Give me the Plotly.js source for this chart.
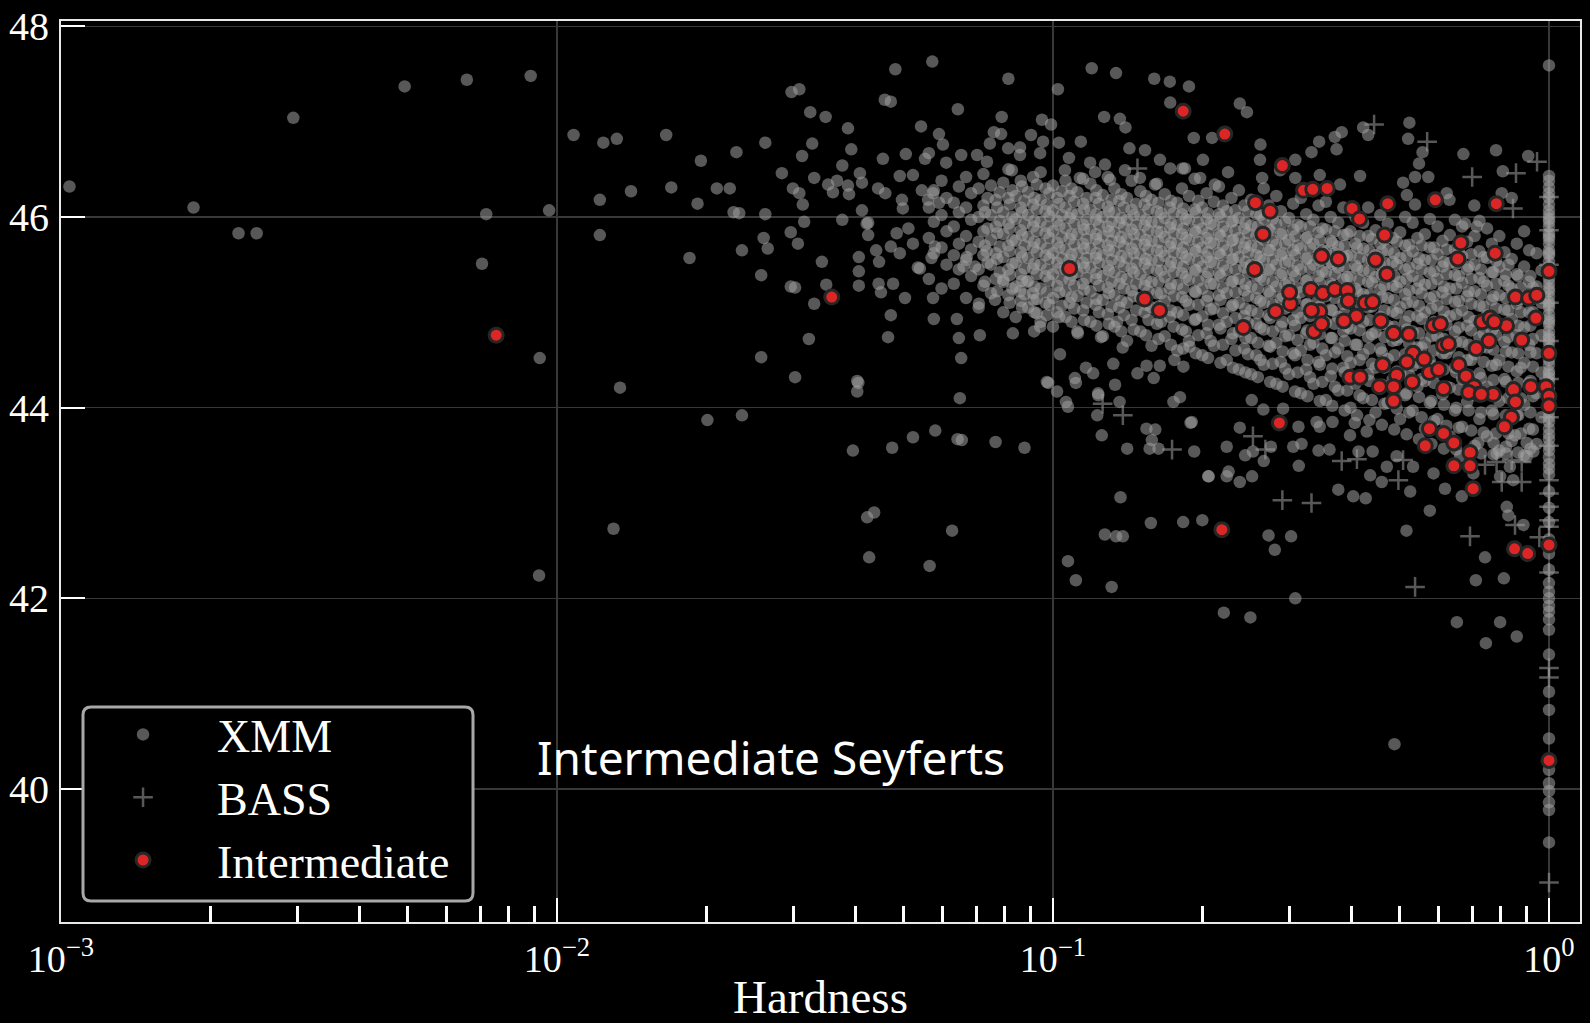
<!DOCTYPE html>
<html><head><meta charset="utf-8">
<script src="https://cdn.plot.ly/plotly-3.0.1.min.js"></script>
<style>html,body{margin:0;padding:0;background:#000;}#chart{width:1590px;height:1023px;}</style>
</head><body><div id="chart"></div>
<script>
// ---- DATA: [hardness, log luminosity] ----
const xmmOutliers = [
[.00104,46.32],[.00185,46.1],[.00228,45.83],[.00248,45.83],[.00294,47.04],[.00493,47.37],[.00658,47.44],[.00885,47.48],[.0072,46.03],[.00706,45.51],[.00964,46.07],[.00923,44.52],[.0092,42.24],
[.0108,46.86],[.0124,46.78],[.0132,46.82],[.0166,46.86],[.0122,46.18],[.0141,46.27],[.017,46.31],[.0192,46.14],[.0195,46.59],[.023,46.68],[.0263,46.78],[.021,46.3],[.0223,46.3],[.0227,46.05],[.0233,46.04],[.0263,46.03],[.0122,45.81],[.0185,45.57],[.0236,45.65],[.0258,45.39],[.0261,45.78],[.0266,45.67],[.0296,45.84],[.0306,45.72],[.0315,45.95],[.0284,46.46],[.0299,46.3],[.0308,46.25],[.0313,46.13],[.0327,46.77],[.0312,46.64],[.033,46.41],[.0352,46.34],[.036,46.26],[.0367,46.38],[.0376,46.54],[.0386,46.33],[.0388,46.24],[.0392,46.71],[.0408,46.46],[.0412,46.36],[.0376,45.97],[.0412,46.07],[.0342,45.53],[.0296,45.27],[.0302,45.26],[.033,45.09],[.0349,45.29],[.0322,44.72],[.0258,44.53],[.0302,44.32],[.0134,44.21],[.0403,44.28],[.0403,44.17],[.0406,45.58],[.0406,45.43],[.0406,45.28],[.0424,45.94],[.0424,45.81],[.044,45.65],[.0446,45.53],[.045,45.21],[.0476,45.3],[.0471,44.97],[.0465,44.74],[.0454,46.61],[.0505,46.66],[.0552,46.61],[.0562,46.67],[.0542,46.95],[.0589,46.87],[.06,46.76],[.0609,46.57],[.0643,47.13],[.0788,47.05],[.0786,46.87],[.076,46.89],[.0746,46.77],[.0703,46.65],[.0653,46.65],[.0812,46.72],[.0903,46.86],[.095,47.02],[.0991,46.97],[.0858,46.65],[.0736,46.58],[.0503,45.15],[.0573,45.15],[.0534,45.47],[.0522,45.72],[.0575,44.93],[.064,44.93],[.0709,45.09],[.0646,44.73],[.0653,44.52],[.0712,44.76],[.083,44.78],[.0916,44.8],[.1033,44.56],[.0972,44.27],[.1019,44.17],[.1122,44.78],[.1165,44.42],[.1233,44.15],[.1334,44.24],[.125,44.74],[.1346,44.9],[.1382,44.63],[.148,44.36],[.1544,44.44],[.1596,44.31],[.1757,44.5],[.1885,44.64],[.1107,44.31],[.1112,44.26],[.1268,47.05],[.1364,47.03],[.14,46.94],[.1426,46.72],[.1138,46.79],[.1077,46.62],[.1188,46.57],[.1273,46.55],[.0942,46.67],[.1028,46.78],[.1723,47.2],[.1922,46.83],[.1824,46.51],[.1723,46.51],
[.0481,47.55],[.0571,47.63],[.0297,47.31],[.0308,47.34],[.0324,47.1],[.0348,47.05],[.0386,46.93],[.0458,47.23],[.0471,47.21],[.0813,47.45],[.1023,47.34],[.1197,47.56],[.134,47.51],[.16,47.45],[.172,47.42],[.188,47.37],
[.013,42.73],[.0201,43.87],[.0236,43.92],[.0405,44.26],[.0649,44.1],[.0395,43.55],[.0474,43.58],[.0522,43.69],[.0579,43.76],[.0642,43.67],[.0655,43.66],[.0766,43.64],[.0876,43.58],[.0436,42.9],[.0422,42.85],[.0626,42.71],[.0426,42.43],[.0564,42.34],
[.0978,44.26],[.1062,44.06],[.1072,44.01],[.1234,44.13],[.1362,44.06],[.1228,43.92],[.1254,43.71],
[.1411,43.57],[.1566,43.57],[.1632,43.57],[.1543,43.78],[.1608,43.77],[.1582,43.66],[.1894,43.84],[.1926,43.54],[.1368,43.06],[.1575,42.79],[.1272,42.67],[.134,42.65],[.1383,42.65],[.1072,42.39],[.1112,42.19],[.1313,42.12],
[.1205,44.36],[.1323,44.46],[.1642,44.44],[.1832,44.43],[.1749,44.06],[.1803,44.11],[.2056,43.28],
[.0858,46.73],[.0955,46.79],[.2093,46.83],[.2006,46.6],
[.0444,46.3],[.0459,46.25],[.0491,46.43],[.0522,46.44],[.0496,46.18],[.0498,46.09],[.0544,46.28],[.056,46.18],[.0573,46.25],[.0589,46.15],
[.0421,45.93],[.0445,45.3],[.0471,45.69],[.0491,45.62],[.0484,45.83],[.0511,45.88],[.0539,45.46],[.0569,45.57],[.0578,45.69],[.066,45.48],[.067,45.58],[.0696,45.48],[.0735,45.64],[.0794,45.34],[.0764,45.13],[.0858,45.22],[.0913,45.13],[.0927,44.99],[.0942,44.85],[.0885,45.32],[.0826,46.49],
[.1845,46.51],[.198,46.41],[.212,46.34],[.2254,46.47],[.264,46.41],[.287,46.49],[.308,46.41],[.345,46.44],[.379,46.34],[.308,46.6],[.2614,46.6],
[.1057,46.49],[.1133,46.41],[.1216,46.47],[.1303,46.39],[.1397,46.49],[.1497,46.41],[.1606,46.34],[.1643,46.6],[.1533,46.7],
[.238,47.19],[.246,47.1],[.262,46.76],[.332,46.68],[.344,46.79],[.373,46.71],[.37,46.84],[.382,46.89],[.422,46.94],[.432,46.86],[.416,46.43],[.523,46.99],[.52,46.82],[.556,46.68],[.547,46.56],[.537,46.42],[.571,46.42],[.508,46.36],[.672,46.66],[.782,46.7],[.807,46.48],[.908,46.64],[.707,46.12],[.622,46.25],[.63,46.18],[.841,46.2],[.803,46.25],[.517,46.23],[.537,46.13],[.677,45.93],[.715,45.9],
[.224,43.59],[.238,43.79],[.206,43.28],[.224,43.28],[.238,43.22],[.244,43.5],[.253,43.54],[.266,43.44],[.275,43.59],[.272,42.66],[.302,42.65],[.28,42.51],[.313,43.39],[.305,43.59],[.317,43.62],[.343,43.55],[.361,43.56],[.366,43.85],[.345,43.8],[.34,43.85],[.376,43.14],[.403,43.07],[.427,43.05],[.436,43.29],[.46,43.22],[.525,43.12],[.397,43.71],[.429,43.75],[.441,43.54],[.413,43.54],[.575,42.92],[.516,42.71],[.617,43.15],[.667,43.07],[.743,42.43],[.712,42.19],[.811,42.21],[.652,41.75],[.746,41.53],[.797,41.75],[.861,41.6],[.822,42.96],[.828,42.87],[.888,42.77],[.308,42],[.221,41.85],[.25,41.8],[.488,40.47],[.819,43.59],[.854,43.71],[.902,43.63],[.93,43.54],[.773,43.63],[.72,43.63],
[.183,42.8],[.2,42.82],[.226,43.33],[.252,43.28],
[.1904,43.85],[.2516,44.08],[.2655,43.98],[.291,43.99],[.3125,43.8],[.406,43.84],
[.532,43.38],[.585,43.31],[.662,43.49],[.704,43.31],[.784,43.52],[.834,43.38],[.902,43.49],[.847,43.24],[.797,43.28],[.493,43.49],[.471,43.38]
];

const xmmCore = [
[.0562,45.35],[.0575,45.62],[.0562,45.78],[.0575,45.95],[.0562,46.1],[.0575,46.28],
[.0596,45.25],[.061,45.5],[.0596,45.68],[.061,45.85],[.0596,46.02],[.061,46.2],[.0596,46.38],
[.0631,45.3],[.0646,45.45],[.0631,45.6],[.0646,45.72],[.0631,45.9],[.0646,46.05],[.0631,46.15],[.0646,46.32],
[.0668,45.15],[.0684,45.38],[.0668,45.55],[.0684,45.66],[.0668,45.8],[.0684,45.97],[.0668,46.1],[.0684,46.25],[.0668,46.42],
[.0708,45.05],[.0724,45.28],[.0708,45.45],[.0724,45.6],[.0708,45.74],[.0724,45.85],[.0708,46],[.0724,46.12],[.0708,46.3],[.0724,46.45],
[.075,45.2],[.0767,45.35],[.075,45.5],[.0767,45.62],[.075,45.76],[.0767,45.9],[.075,46.02],[.0767,46.18],[.075,46.33],
[.0794,45],[.0813,45.18],[.0794,45.32],[.0813,45.45],[.0794,45.58],[.0813,45.7],[.0794,45.82],[.0813,45.93],[.0794,46.05],[.0813,46.2],[.0794,46.36],[.0813,46.5],
[.0841,44.95],[.0861,45.12],[.0841,45.27],[.0861,45.4],[.0841,45.52],[.0861,45.63],[.0841,45.75],[.0861,45.86],[.0841,45.98],[.0861,46.1],[.0841,46.22],[.0861,46.38],
[.0891,45.05],[.0912,45.2],[.0891,45.33],[.0912,45.46],[.0891,45.57],[.0912,45.68],[.0891,45.79],[.0912,45.9],[.0891,46.02],[.0912,46.13],[.0891,46.26],[.0912,46.42],
[.0944,44.9],[.0966,45.1],[.0944,45.25],[.0966,45.38],[.0944,45.5],[.0966,45.6],[.0944,45.72],[.0966,45.83],[.0944,45.95],[.0966,46.06],[.0944,46.18],[.0966,46.3],[.0944,46.47],
[.1,44.85],[.102,45],[.1,45.15],[.102,45.28],[.1,45.4],[.102,45.52],[.1,45.62],[.102,45.73],[.1,45.85],[.102,45.96],[.1,46.07],[.102,46.2],[.1,46.33],
[.106,44.95],[.108,45.1],[.106,45.22],[.108,45.34],[.106,45.45],[.108,45.55],[.106,45.66],[.108,45.77],[.106,45.88],[.108,45.99],[.106,46.1],[.108,46.22],[.106,46.38],
[.112,44.8],[.115,45.02],[.112,45.17],[.115,45.3],[.112,45.42],[.115,45.52],[.112,45.62],[.115,45.72],[.112,45.82],[.115,45.92],[.112,46.03],[.115,46.14],[.112,46.26],[.115,46.4],
[.119,44.9],[.122,45.08],[.119,45.22],[.122,45.35],[.119,45.47],[.122,45.57],[.119,45.67],[.122,45.77],[.119,45.87],[.122,45.97],[.119,46.08],[.122,46.2],[.119,46.35],
[.126,44.75],[.129,44.98],[.126,45.13],[.129,45.26],[.126,45.38],[.129,45.49],[.126,45.6],[.129,45.7],[.126,45.8],[.129,45.9],[.126,46],[.129,46.11],[.126,46.23],[.129,46.42],
[.133,44.85],[.136,45.05],[.133,45.18],[.136,45.3],[.133,45.42],[.136,45.53],[.133,45.64],[.136,45.74],[.133,45.84],[.136,45.94],[.133,46.05],[.136,46.17],[.133,46.3],
[.141,44.7],[.144,44.92],[.141,45.1],[.144,45.23],[.141,45.35],[.144,45.46],[.141,45.57],[.144,45.67],[.141,45.77],[.144,45.87],[.141,45.97],[.144,46.08],[.141,46.2],[.144,46.38],
[.15,44.8],[.153,45],[.15,45.15],[.153,45.28],[.15,45.4],[.153,45.51],[.15,45.61],[.153,45.71],[.15,45.81],[.153,45.91],[.15,46.02],[.153,46.13],[.15,46.27],
[.158,44.65],[.162,44.88],[.158,45.05],[.162,45.2],[.158,45.32],[.162,45.44],[.158,45.55],[.162,45.65],[.158,45.75],[.162,45.85],[.158,45.95],[.162,46.06],[.158,46.18],[.162,46.35],
[.168,44.75],[.172,44.95],[.168,45.12],[.172,45.25],[.168,45.37],[.172,45.48],[.168,45.59],[.172,45.69],[.168,45.79],[.172,45.89],[.168,45.99],[.172,46.1],[.168,46.24],
[.178,44.6],[.182,44.82],[.178,45],[.182,45.16],[.178,45.29],[.182,45.41],[.178,45.52],[.182,45.62],[.178,45.72],[.182,45.82],[.178,45.92],[.182,46.03],[.178,46.15],[.182,46.3],
[.188,44.7],[.193,44.92],[.188,45.08],[.193,45.22],[.188,45.34],[.193,45.45],[.188,45.56],[.193,45.66],[.188,45.76],[.193,45.86],[.188,45.97],[.193,46.08],[.188,46.22],[.193,46.4],
[.2,44.55],[.204,44.78],[.2,44.96],[.204,45.12],[.2,45.25],[.204,45.37],[.2,45.48],[.204,45.58],[.2,45.68],[.204,45.78],[.2,45.88],[.204,45.98],[.2,46.1],[.204,46.25],
[.211,44.65],[.216,44.87],[.211,45.04],[.216,45.18],[.211,45.3],[.216,45.41],[.211,45.52],[.216,45.62],[.211,45.72],[.216,45.82],[.211,45.92],[.216,46.03],[.211,46.16],[.216,46.32],
[.224,44.5],[.229,44.72],[.224,44.9],[.229,45.06],[.224,45.2],[.229,45.32],[.224,45.44],[.229,45.55],[.224,45.65],[.229,45.75],[.224,45.85],[.229,45.95],[.224,46.06],[.229,46.2],
[.237,44.4],[.243,44.62],[.237,44.8],[.243,44.96],[.237,45.1],[.243,45.23],[.237,45.35],[.243,45.47],[.237,45.58],[.243,45.68],[.237,45.78],[.243,45.88],[.237,45.99],[.243,46.12],[.237,46.28],
[.251,44.35],[.257,44.55],[.251,44.73],[.257,44.88],[.251,45.02],[.257,45.15],[.251,45.27],[.257,45.38],[.251,45.5],[.257,45.6],[.251,45.7],[.257,45.8],[.251,45.91],[.257,46.03],[.251,46.18],
[.266,44.45],[.272,44.65],[.266,44.82],[.272,44.97],[.266,45.1],[.272,45.22],[.266,45.34],[.272,45.45],[.266,45.55],[.272,45.65],[.266,45.76],[.272,45.87],[.266,45.98],[.272,46.12],[.266,46.3],
[.282,44.25],[.288,44.48],[.282,44.68],[.288,44.85],[.282,45],[.288,45.14],[.282,45.27],[.288,45.39],[.282,45.5],[.288,45.6],[.282,45.71],[.288,45.82],[.282,45.93],[.288,46.06],[.282,46.22],
[.299,44.35],[.305,44.57],[.299,44.76],[.305,44.92],[.299,45.06],[.305,45.19],[.299,45.31],[.305,45.43],[.299,45.54],[.305,45.65],[.299,45.76],[.305,45.87],[.299,45.99],[.305,46.14],
[.316,44.15],[.324,44.4],[.316,44.6],[.324,44.78],[.316,44.94],[.324,45.08],[.316,45.21],[.324,45.33],[.316,45.45],[.324,45.56],[.316,45.67],[.324,45.78],[.316,45.9],[.324,46.03],[.316,46.2],
[.335,44.25],[.343,44.48],[.335,44.68],[.343,44.85],[.335,45],[.343,45.13],[.335,45.26],[.343,45.38],[.335,45.5],[.343,45.61],[.335,45.72],[.343,45.84],[.335,45.97],[.343,46.12],
[.355,44.08],[.363,44.33],[.355,44.55],[.363,44.73],[.355,44.89],[.363,45.03],[.355,45.17],[.363,45.3],[.355,45.42],[.363,45.53],[.355,45.64],[.363,45.75],[.355,45.87],[.363,46],[.355,46.16],
[.376,44.18],[.385,44.42],[.376,44.62],[.385,44.8],[.376,44.95],[.385,45.09],[.376,45.22],[.385,45.35],[.376,45.47],[.385,45.58],[.376,45.69],[.385,45.81],[.376,45.94],[.385,46.1],
[.398,44],[.407,44.25],[.398,44.47],[.407,44.66],[.398,44.83],[.407,44.98],[.398,45.12],[.407,45.25],[.398,45.37],[.407,45.49],[.398,45.6],[.407,45.72],[.398,45.85],[.407,46],
[.422,44.1],[.432,44.35],[.422,44.56],[.432,44.74],[.422,44.9],[.432,45.05],[.422,45.19],[.432,45.32],[.422,45.44],[.432,45.55],[.422,45.67],[.432,45.8],[.422,45.94],[.432,46.1],
[.447,43.95],[.457,44.2],[.447,44.42],[.457,44.62],[.447,44.79],[.457,44.95],[.447,45.1],[.457,45.24],[.447,45.37],[.457,45.49],[.447,45.6],[.457,45.72],[.447,45.86],[.457,46.02],
[.473,44.05],[.484,44.3],[.473,44.51],[.484,44.7],[.473,44.86],[.484,45.01],[.473,45.15],[.484,45.28],[.473,45.41],[.484,45.53],[.473,45.65],[.484,45.78],[.473,45.93],
[.501,43.88],[.513,44.13],[.501,44.36],[.513,44.56],[.501,44.74],[.513,44.9],[.501,45.05],[.513,45.19],[.501,45.32],[.513,45.45],[.501,45.57],[.513,45.7],[.501,45.84],[.513,46],
[.531,43.97],[.543,44.22],[.531,44.44],[.543,44.63],[.531,44.8],[.543,44.96],[.531,45.11],[.543,45.25],[.531,45.38],[.543,45.51],[.531,45.64],[.543,45.78],[.531,45.94],
[.562,43.78],[.575,44.05],[.562,44.28],[.575,44.49],[.562,44.68],[.575,44.85],[.562,45],[.575,45.15],[.562,45.29],[.575,45.42],[.562,45.55],[.575,45.68],[.562,45.82],[.575,45.98],
[.596,43.88],[.61,44.14],[.596,44.37],[.61,44.57],[.596,44.75],[.61,44.92],[.596,45.07],[.61,45.21],[.596,45.35],[.61,45.48],[.596,45.61],[.61,45.75],[.596,45.9],
[.631,43.7],[.646,43.97],[.631,44.21],[.646,44.42],[.631,44.62],[.646,44.8],[.631,44.96],[.646,45.11],[.631,45.25],[.646,45.39],[.631,45.52],[.646,45.66],[.631,45.81],[.646,45.97],
[.668,43.8],[.684,44.06],[.668,44.3],[.684,44.5],[.668,44.69],[.684,44.86],[.668,45.02],[.684,45.17],[.668,45.31],[.684,45.45],[.668,45.59],[.684,45.74],[.668,45.9],
[.708,43.6],[.724,43.88],[.708,44.13],[.724,44.36],[.708,44.56],[.724,44.74],[.708,44.91],[.724,45.07],[.708,45.22],[.724,45.36],[.708,45.5],[.724,45.64],[.708,45.8],[.724,45.96],
[.75,43.7],[.767,43.97],[.75,44.22],[.767,44.44],[.75,44.63],[.767,44.81],[.75,44.97],[.767,45.13],[.75,45.28],[.767,45.42],[.75,45.57],[.767,45.72],[.75,45.88],
[.794,43.55],[.813,43.82],[.794,44.07],[.813,44.3],[.794,44.5],[.813,44.69],[.794,44.87],[.813,45.03],[.794,45.18],[.813,45.33],[.794,45.48],[.813,45.63],[.794,45.8],
[.841,43.65],[.861,43.92],[.841,44.16],[.861,44.38],[.841,44.58],[.861,44.76],[.841,44.93],[.861,45.09],[.841,45.25],[.861,45.4],[.841,45.56],[.861,45.72],
[.891,43.5],[.912,43.78],[.891,44.03],[.912,44.26],[.891,44.47],[.912,44.66],[.891,44.84],[.912,45],[.891,45.16],[.912,45.32],[.891,45.48],[.912,45.65],[.891,45.85],
[.944,43.62],[.966,43.9],[.944,44.15],[.966,44.37],[.944,44.57],[.966,44.76],[.944,44.94],[.966,45.1],[.944,45.27],[.966,45.44],[.944,45.62]
];

// second, interleaved layer of the densest part of the XMM cloud
const xmmCoreInner = [
[.0729,45.32],[.0738,45.52],[.0729,45.7],[.0738,45.88],[.0729,46.05],[.0738,46.2],
[.0772,45.22],[.0781,45.42],[.0772,45.56],[.0781,45.69],[.0772,45.83],[.0781,45.96],[.0772,46.1],[.0781,46.26],
[.0818,45.1],[.0828,45.25],[.0818,45.39],[.0828,45.51],[.0818,45.64],[.0828,45.76],[.0818,45.88],[.0828,46],[.0818,46.13],[.0828,46.28],
[.0866,45.05],[.0876,45.19],[.0866,45.33],[.0876,45.46],[.0866,45.58],[.0876,45.7],[.0866,45.81],[.0876,45.93],[.0866,46.05],[.0876,46.17],[.0866,46.32],
[.0917,45],[.0928,45.14],[.0917,45.27],[.0928,45.4],[.0917,45.51],[.0928,45.63],[.0917,45.74],[.0928,45.85],[.0917,45.96],[.0928,46.08],[.0917,46.2],[.0928,46.34],
[.0972,44.97],[.0984,45.08],[.0972,45.21],[.0984,45.33],[.0972,45.45],[.0984,45.56],[.0972,45.67],[.0984,45.78],[.0972,45.9],[.0984,46.01],[.0972,46.13],[.0984,46.25],
[.103,44.95],[.1042,45.07],[.103,45.21],[.1042,45.34],[.103,45.46],[.1042,45.57],[.103,45.68],[.1042,45.79],[.103,45.91],[.1042,46.02],[.103,46.14],[.1042,46.27],
[.109,44.9],[.1103,45.04],[.109,45.16],[.1103,45.28],[.109,45.39],[.1103,45.5],[.109,45.61],[.1103,45.71],[.109,45.82],[.1103,45.93],[.109,46.04],[.1103,46.16],[.109,46.3],
[.1155,44.92],[.1169,45.1],[.1155,45.24],[.1169,45.36],[.1155,45.47],[.1169,45.57],[.1155,45.67],[.1169,45.77],[.1155,45.87],[.1169,45.97],[.1155,46.08],[.1169,46.2],
[.1223,44.86],[.1238,45],[.1223,45.14],[.1238,45.28],[.1223,45.41],[.1238,45.52],[.1223,45.62],[.1238,45.72],[.1223,45.82],[.1238,45.92],[.1223,46.03],[.1238,46.14],[.1223,46.28],
[.1296,44.88],[.1312,45.06],[.1296,45.2],[.1312,45.32],[.1296,45.44],[.1312,45.55],[.1296,45.65],[.1312,45.75],[.1296,45.85],[.1312,45.95],[.1296,46.06],[.1312,46.18],
[.1373,44.8],[.139,44.97],[.1373,45.12],[.139,45.25],[.1373,45.37],[.139,45.48],[.1373,45.59],[.139,45.69],[.1373,45.79],[.139,45.89],[.1373,45.99],[.139,46.1],[.1373,46.24],
[.1454,44.82],[.1471,45.02],[.1454,45.17],[.1471,45.3],[.1454,45.42],[.1471,45.52],[.1454,45.62],[.1471,45.72],[.1454,45.82],[.1471,45.92],[.1454,46.02],[.1471,46.14],
[.154,44.76],[.1558,44.92],[.154,45.08],[.1558,45.22],[.154,45.34],[.1558,45.46],[.154,45.56],[.1558,45.66],[.154,45.76],[.1558,45.86],[.154,45.97],[.1558,46.08],[.154,46.22],
[.1632,44.72],[.1652,44.9],[.1632,45.06],[.1652,45.2],[.1632,45.32],[.1652,45.44],[.1632,45.54],[.1652,45.64],[.1632,45.74],[.1652,45.84],[.1632,45.94],[.1652,46.04],[.1632,46.15],
[.1729,44.66],[.175,44.85],[.1729,45.02],[.175,45.17],[.1729,45.3],[.175,45.42],[.1729,45.53],[.175,45.63],[.1729,45.73],[.175,45.83],[.1729,45.93],[.175,46.04],[.1729,46.17],
[.1831,44.62],[.1853,44.8],[.1831,44.97],[.1853,45.12],[.1831,45.25],[.1853,45.37],[.1831,45.48],[.1853,45.58],[.1831,45.68],[.1853,45.78],[.1831,45.88],[.1853,45.98],[.1831,46.09],
[.194,44.57],[.1963,44.76],[.194,44.93],[.1963,45.08],[.194,45.21],[.1963,45.33],[.194,45.44],[.1963,45.54],[.194,45.64],[.1963,45.74],[.194,45.84],[.1963,45.94],[.194,46.05],[.1963,46.17],
[.2054,44.52],[.2079,44.7],[.2054,44.87],[.2079,45.03],[.2054,45.17],[.2079,45.3],[.2054,45.42],[.2079,45.53],[.2054,45.63],[.2079,45.73],[.2054,45.83],[.2079,45.93],[.2054,46.04],
[.2176,44.47],[.2202,44.66],[.2176,44.83],[.2202,44.99],[.2176,45.13],[.2202,45.26],[.2176,45.38],[.2202,45.49],[.2176,45.6],[.2202,45.7],[.2176,45.8],[.2202,45.9],[.2176,46],[.2202,46.12],
[.2305,44.42],[.2333,44.6],[.2305,44.78],[.2333,44.94],[.2305,45.08],[.2333,45.21],[.2305,45.33],[.2333,45.45],[.2305,45.56],[.2333,45.66],[.2305,45.76],[.2333,45.86],[.2305,45.96],[.2333,46.07],
[.2443,44.37],[.2472,44.56],[.2443,44.73],[.2472,44.89],[.2443,45.04],[.2472,45.17],[.2443,45.3],[.2472,45.42],[.2443,45.53],[.2472,45.63],[.2443,45.73],[.2472,45.83],[.2443,45.94],[.2472,46.06],
[.2588,44.32],[.2619,44.5],[.2588,44.68],[.2619,44.84],[.2588,44.99],[.2619,45.12],[.2588,45.25],[.2619,45.37],[.2588,45.48],[.2619,45.58],[.2588,45.68],[.2619,45.79],[.2588,45.9],[.2619,46.02],
[.2741,44.27],[.2774,44.46],[.2741,44.64],[.2774,44.8],[.2741,44.94],[.2774,45.08],[.2741,45.2],[.2774,45.32],[.2741,45.44],[.2774,45.55],[.2741,45.65],[.2774,45.75],[.2741,45.86],[.2774,45.98],
[.2904,44.22],[.2939,44.41],[.2904,44.59],[.2939,44.75],[.2904,44.9],[.2939,45.04],[.2904,45.17],[.2939,45.29],[.2904,45.41],[.2939,45.52],[.2904,45.62],[.2939,45.72],[.2904,45.83],[.2939,45.95],
[.3076,44.17],[.3113,44.37],[.3076,44.55],[.3113,44.71],[.3076,44.86],[.3113,45],[.3076,45.13],[.3113,45.26],[.3076,45.38],[.3113,45.49],[.3076,45.6],[.3113,45.7],[.3076,45.8],[.3113,45.92],
[.3259,44.12],[.3298,44.32],[.3259,44.5],[.3298,44.66],[.3259,44.81],[.3298,44.96],[.3259,45.09],[.3298,45.22],[.3259,45.34],[.3298,45.46],[.3259,45.57],[.3298,45.68],[.3259,45.79],[.3298,45.9],
[.3451,44.07],[.3492,44.27],[.3451,44.45],[.3492,44.62],[.3451,44.77],[.3492,44.92],[.3451,45.06],[.3492,45.19],[.3451,45.31],[.3492,45.43],[.3451,45.54],[.3492,45.65],[.3451,45.76],[.3492,45.88],
[.3656,44.02],[.37,44.22],[.3656,44.41],[.37,44.58],[.3656,44.73],[.37,44.88],[.3656,45.02],[.37,45.15],[.3656,45.28],[.37,45.4],[.3656,45.51],[.37,45.62],[.3656,45.73],[.37,45.85],
[.3873,43.97],[.392,44.18],[.3873,44.37],[.392,44.54],[.3873,44.7],[.392,44.85],[.3873,44.99],[.392,45.12],[.3873,45.25],[.392,45.37],[.3873,45.48],[.392,45.59],[.3873,45.7],[.392,45.82],
[.4102,43.92],[.4151,44.13],[.4102,44.32],[.4151,44.5],[.4102,44.66],[.4151,44.81],[.4102,44.95],[.4151,45.09],[.4102,45.22],[.4151,45.34],[.4102,45.46],[.4151,45.57],[.4102,45.68],[.4151,45.8],
[.4345,43.87],[.4397,44.08],[.4345,44.28],[.4397,44.46],[.4345,44.62],[.4397,44.77],[.4345,44.92],[.4397,45.06],[.4345,45.19],[.4397,45.31],[.4345,45.43],[.4397,45.54],[.4345,45.65],[.4397,45.77],
[.4603,43.82],[.4658,44.04],[.4603,44.24],[.4658,44.42],[.4603,44.58],[.4658,44.74],[.4603,44.88],[.4658,45.02],[.4603,45.16],[.4658,45.28],[.4603,45.4],[.4658,45.52],[.4603,45.64],[.4658,45.76],
[.4875,43.77],[.4934,43.99],[.4875,44.19],[.4934,44.38],[.4875,44.55],[.4934,44.71],[.4875,44.85],[.4934,44.99],[.4875,45.13],[.4934,45.26],[.4875,45.38],[.4934,45.5],[.4875,45.62],[.4934,45.74],
[.5164,43.72],[.5226,43.95],[.5164,44.15],[.5226,44.34],[.5164,44.51],[.5226,44.67],[.5164,44.82],[.5226,44.96],[.5164,45.1],[.5226,45.23],[.5164,45.35],[.5226,45.47],[.5164,45.59],[.5226,45.71],
[.547,43.67],[.5536,43.9],[.547,44.11],[.5536,44.3],[.547,44.47],[.5536,44.63],[.547,44.78],[.5536,44.93],[.547,45.07],[.5536,45.2],[.547,45.33],[.5536,45.45],[.547,45.57],[.5536,45.7],
[.5794,43.62],[.5864,43.86],[.5794,44.07],[.5864,44.26],[.5794,44.44],[.5864,44.6],[.5794,44.75],[.5864,44.9],[.5794,45.04],[.5864,45.17],[.5794,45.3],[.5864,45.43],[.5794,45.55],[.5864,45.68],
[.6138,43.57],[.6212,43.81],[.6138,44.03],[.6212,44.22],[.6138,44.4],[.6212,44.57],[.6138,44.72],[.6212,44.87],[.6138,45.01],[.6212,45.14],[.6138,45.27],[.6212,45.4],[.6138,45.53],[.6212,45.66],
[.6501,43.56],[.6579,43.79],[.6501,44],[.6579,44.19],[.6501,44.37],[.6579,44.53],[.6501,44.69],[.6579,44.84],[.6501,44.98],[.6579,45.12],[.6501,45.25],[.6579,45.38],[.6501,45.51],[.6579,45.64],
[.6887,43.52],[.697,43.76],[.6887,43.97],[.697,44.16],[.6887,44.34],[.697,44.5],[.6887,44.66],[.697,44.81],[.6887,44.95],[.697,45.09],[.6887,45.22],[.697,45.35],[.6887,45.48],[.697,45.61],
[.7295,43.52],[.7383,43.74],[.7295,43.95],[.7383,44.14],[.7295,44.31],[.7383,44.48],[.7295,44.63],[.7383,44.78],[.7295,44.92],[.7383,45.06],[.7295,45.19],[.7383,45.32],[.7295,45.45],[.7383,45.58],
[.7727,43.51],[.782,43.73],[.7727,43.93],[.782,44.12],[.7727,44.29],[.782,44.45],[.7727,44.61],[.782,44.76],[.7727,44.9],[.782,45.04],[.7727,45.17],[.782,45.3],[.7727,45.42],[.782,45.54],
[.8185,43.52],[.8283,43.73],[.8185,43.92],[.8283,44.1],[.8185,44.27],[.8283,44.43],[.8185,44.59],[.8283,44.74],[.8185,44.88],[.8283,45.02],[.8185,45.15],[.8283,45.28],[.8185,45.4],[.8283,45.5],
[.867,43.53],[.8774,43.73],[.867,43.92],[.8774,44.1],[.867,44.26],[.8774,44.42],[.867,44.57],[.8774,44.72],[.867,44.86],[.8774,45],[.867,45.13],[.8774,45.26],[.867,45.38],
[.9173,43.57],[.9283,43.77],[.9173,43.95],[.9283,44.12],[.9173,44.28],[.9283,44.43],[.9173,44.58],[.9283,44.72],[.9173,44.86],[.9283,45],[.9173,45.13],[.9283,45.26],[.9173,45.38]
];

// XMM sources sitting at hardness = 1
const unityHardness = 1;
const xmmUnityLum = [47.59,46.43,46.38,46.31,46.25,46.2,46.13,46.07,46.02,45.95,45.9,45.83,45.77,45.72,45.65,45.6,45.53,45.48,45.41,45.35,45.3,45.22,45.17,45.11,45.05,44.98,44.93,44.87,44.8,44.75,44.68,44.62,44.57,44.5,44.45,44.38,44.31,44.27,44.2,44.14,44.08,44.03,43.96,43.9,43.85,43.78,43.72,43.67,43.6,43.55,43.48,43.41,43.36,43.3,45.98,45.8,45.62,45.45,45.25,45.08,44.9,44.72,44.55,44.35,43.12,42.95,42.8,42.62,42.47,42.3,42.16,42.07,42,41.92,41.86,41.78,41.67,41.41,41.02,40.83,40.53,40.2,40.06,39.98,39.86,39.78,39.44];

const bassPts = [
[.148,46.51],[.444,46.97],[.568,46.79],[.7,46.42],[.858,46.46],[.946,46.58],[.846,46.09],[1,46.21],[1,45.86],
[.1259,44.04],[.1383,43.92],[.1738,43.56],
[.253,43.7],[.268,43.56],[.29,43.03],[.332,43],[.382,43.44],[.41,43.46],[.497,43.24],[.508,43.45],[.537,42.12],[.693,42.65],[.743,43.4],[.784,43.43],[.803,43.22],[.841,43.45],[.881,43.43],[.881,43.22],[.854,42.77],[.956,42.64],
[1,43.24],[1,43.1],[1,42.96],[1,42.82],[1,42.75],[1,42.27],[1,41.27],[1,41.17],[1,39.02],
[1,45.5],[1,45.1],[1,44.7],[1,44.3],[1,43.9],[1,43.6]
];

const intermediatePts = [
[.00754,44.76],[.0358,45.16],[.108,45.46],[.183,47.11],[.222,46.87],[.153,45.14],[.164,45.02],[.219,42.72],
[.242,44.84],[.255,45.45],[.256,46.15],[.274,46.06],[.265,45.82],[.29,46.54],[.286,43.84],[.281,45.01],[.301,45.09],[.3,45.21],
[.32,46.28],[.334,46.29],[.357,46.3],[.331,45.24],[.35,45.2],[.37,45.24],[.392,45.23],[.394,45.12],[.345,45.01],[.332,45.02],
[.426,45.1],[.441,45.11],[.409,44.96],[.386,44.91],[.458,44.91],[.336,44.8],[.348,44.88],[.348,45.59],[.376,45.56],[.401,46.09],
[.415,45.98],[.466,45.81],[.447,45.55],[.471,45.4],[.473,46.14],[.59,46.18],[.783,46.14],[.664,45.73],[.655,45.56],[.779,45.62],
[1,45.43],[.856,45.16],[.91,45.15],[.945,45.18],[.733,44.9],[.761,44.94],[.821,44.86],[.941,44.94],[.585,44.86],[.604,44.88],
[.486,44.78],[.522,44.77],[.776,44.9],[.881,44.71],[.757,44.7],[.713,44.62],[.613,44.65],[.627,44.67],[.532,44.57],[.56,44.51],
[.517,44.48],[1,44.57],[.462,44.45],[.493,44.34],[.53,44.27],[.574,44.37],[.599,44.4],[.658,44.45],[.68,44.33],[.706,44.22],
[.723,44.14],[.772,44.14],[.397,44.32],[.416,44.32],[.455,44.22],[.486,44.22],[.486,44.07],[.613,44.2],[.689,44.16],[.73,44.14],
[.848,44.19],[.856,44.06],[.919,44.22],[.986,44.22],[1,44.12],[1,44.02],[.84,43.9],[.813,43.8],[.574,43.78],[.613,43.73],
[.563,43.6],[.643,43.63],[.693,43.53],[.643,43.39],[.693,43.39],[.703,43.15],[.852,42.52],[.906,42.47],[1,42.56],[1,40.3]
];

// axis ticks
const xTickVals = [0.001, 0.01, 0.1, 1];
const xTickText = ['10<sup>\u22123</sup>', '10<sup>\u22122</sup>', '10<sup>\u22121</sup>', '10<sup>0</sup>'];
const xMinorVals = [0.002,0.003,0.004,0.005,0.006,0.007,0.008,0.009,0.02,0.03,0.04,0.05,0.06,0.07,0.08,0.09,0.2,0.3,0.4,0.5,0.6,0.7,0.8,0.9];
const yTickVals = [40, 42, 44, 46, 48];

// ---- BUILD ----
const xmmAll = xmmOutliers.concat(xmmCore, xmmCoreInner);
const xmmX = xmmAll.map(p => p[0]).concat(xmmUnityLum.map(() => unityHardness));
const xmmY = xmmAll.map(p => p[1]).concat(xmmUnityLum);

const grayPt = 'rgba(160,160,160,0.55)';
const serif = 'Liberation Serif, Times New Roman, serif';

const traces = [
  {type:'scatter', mode:'markers', name:'XMM', x:xmmX, y:xmmY,
   marker:{color:grayPt, size:12.5, line:{width:0}}},
  {type:'scatter', mode:'markers', name:'BASS', x:bassPts.map(p=>p[0]), y:bassPts.map(p=>p[1]),
   marker:{symbol:'cross-thin', size:14, color:grayPt, line:{color:grayPt, width:2.5}}},
  {type:'scatter', mode:'markers', name:'Intermediate', x:intermediatePts.map(p=>p[0]), y:intermediatePts.map(p=>p[1]),
   marker:{color:'#dc2626', size:14, line:{color:'#262626', width:3}}}
];

const bx0=0.01448, bx1=0.27123, by0=0.02331, by1=0.23862, rx=0.00527, ry=0.00888;
const boxPath = `M${bx0+rx},${by1} L${bx1-rx},${by1} Q${bx1},${by1} ${bx1},${by1-ry} L${bx1},${by0+ry} Q${bx1},${by0} ${bx1-rx},${by0} L${bx0+rx},${by0} Q${bx0},${by0} ${bx0},${by0+ry} L${bx0},${by1-ry} Q${bx0},${by1} ${bx0+rx},${by1} Z`;

const layout = {
  width:1590, height:1023,
  paper_bgcolor:'#000', plot_bgcolor:'#000',
  margin:{l:61, r:10, t:21, b:101},
  font:{family:serif, color:'#fff'},
  showlegend:true,
  hovermode:false,
  xaxis:{
    type:'log', range:[-3, 0.0625], autorange:false,
    tickmode:'array', tickvals:xTickVals, ticktext:xTickText,
    ticks:'inside', ticklen:24, tickwidth:1.5, tickcolor:'#ffffff',
    tickfont:{family:serif, size:38, color:'#ffffff'}, ticklabelstandoff:2,
    minor:{tickmode:'array', tickvals:xMinorVals, ticks:'inside', ticklen:16, tickwidth:3, tickcolor:'#ffffff', showgrid:false},
    showgrid:true, gridcolor:'#383838', gridwidth:1.5,
    showline:true, linecolor:'#e8e8e8', linewidth:2, mirror:true, zeroline:false,
    title:{text:'Hardness', font:{family:serif, size:47, color:'#ffffff'}, standoff:27}
  },
  yaxis:{
    range:[38.605, 48.056], autorange:false,
    tickmode:'array', tickvals:yTickVals,
    ticks:'inside', ticklen:24, tickwidth:2, tickcolor:'#ffffff',
    tickfont:{family:serif, size:40, color:'#ffffff'}, ticklabelstandoff:2,
    showgrid:true, gridcolor:'#383838', gridwidth:1.5,
    showline:true, linecolor:'#e8e8e8', linewidth:2, mirror:true, zeroline:false
  },
  legend:{
    x:0.0053, y:0.2486, xanchor:'left', yanchor:'top',
    bgcolor:'rgba(0,0,0,0)', borderwidth:0,
    font:{family:serif, size:46, color:'#ffffff'},
    itemwidth:138, traceorder:'normal'
  },
  shapes:[{type:'path', xref:'paper', yref:'paper', path:boxPath,
    line:{color:'#a8a8a8', width:3}, fillcolor:'#000000', layer:'above'}],
  annotations:[{
    text:'Intermediate Seyferts', xref:'paper', yref:'paper',
    x:0.4674, y:0.1831, xanchor:'center', yanchor:'middle', showarrow:false,
    font:{family:'Noto Sans, Open Sans, sans-serif', size:46, color:'#ffffff'}
  }]
};

Plotly.newPlot('chart', traces, layout, {staticPlot:true, displayModeBar:false});
</script>
</body></html>
